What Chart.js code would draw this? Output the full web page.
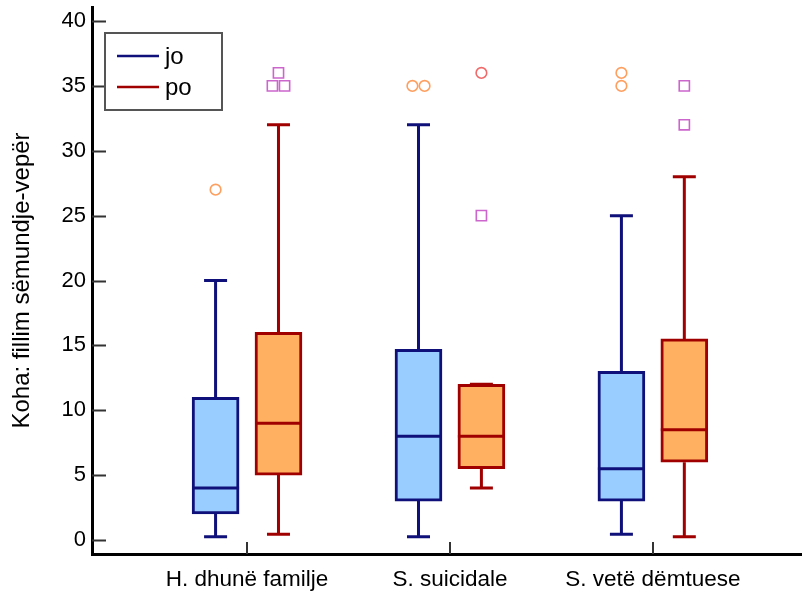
<!DOCTYPE html>
<html>
<head>
<meta charset="utf-8">
<script src="https://cdn.jsdelivr.net/npm/chart.js@4/dist/chart.umd.min.js"></script>
<style>
  html, body { margin: 0; padding: 0; background: #fff; }
  #wrap { width: 802px; height: 594px; }
</style>
</head>
<body>
<div id="wrap"><canvas id="boxChart" width="802" height="594"></canvas></div>
<script>
const categories = ['H. dhunë familje', 'S. suicidale', 'S. vetë dëmtuese'];
const seriesNames = ['jo', 'po'];

// box statistics per category
const joMin = [0.25, 0.25, 0.45];
const joQ1 = [2, 3, 3];
const joMedian = [4, 8, 5.5];
const joQ3 = [11, 14.7, 13];
const joMax = [20, 32, 25];

const poMin = [0.45, 4, 0.25];
const poQ1 = [5, 5.5, 6];
const poMedian = [9, 8, 8.5];
const poQ3 = [16, 12, 15.5];
const poMax = [32, 12, 28];

// outliers: value lists per category, with marker kind for each
const joOutliers = [[27], [35, 35], [35, 36]];
const joOutlierKind = [['circle'], ['circle', 'circle'], ['circle', 'circle']];
const poOutliers = [[35, 35, 36], [25, 36], [32, 35]];
const poOutlierKind = [['square', 'square', 'square'], ['square', 'far'], ['square', 'square']];

const yTicks = [0, 5, 10, 15, 20, 25, 30, 35, 40];

const FONT = "'Liberation Sans', Arial, sans-serif";
const SHIFT = 0.155;      // half distance between the two boxes of a category
const JITTER = 0.03;      // spread for tied outliers

const groups = [
  { name: 'jo', shift: -SHIFT, min: joMin, q1: joQ1, med: joMedian, q3: joQ3, max: joMax,
    line: '#10107a', fill: '#99ccff', out: joOutliers, kind: joOutlierKind },
  { name: 'po', shift: SHIFT, min: poMin, q1: poQ1, med: poMedian, q3: poQ3, max: poMax,
    line: '#a00000', fill: '#ffb060', out: poOutliers, kind: poOutlierKind }
];

const markerStyle = {
  circle: { pointStyle: 'circle', radius: 5.3, color: '#ff9f5f' },
  far: { pointStyle: 'circle', radius: 5.3, color: '#f06a6a' },
  square: { pointStyle: 'rect', radius: 7.2, color: '#cc66cc' }
};

// floating bars for the interquartile boxes
const boxDatasets = groups.map(g => ({
  type: 'bar',
  label: g.name,
  data: categories.map((c, i) => ({ x: i + 1 + g.shift, y: [g.q1[i], g.q3[i]] })),
  backgroundColor: g.fill,
  borderColor: g.line,
  borderWidth: 3,
  borderSkipped: false,
  barThickness: 47,
  grouped: false,
  order: 2
}));

// scatter points for the outliers, ties spread sideways
const outlierDatasets = [];
groups.forEach(g => {
  ['circle', 'far', 'square'].forEach(k => {
    const pts = [];
    categories.forEach((c, i) => {
      const vals = g.out[i];
      vals.forEach((v, j) => {
        if (g.kind[i][j] !== k) return;
        const same = vals.filter((w, n) => w === v && g.kind[i][n] === k);
        const idx = vals.slice(0, j).filter((w, n) => w === v && g.kind[i][n] === k).length;
        pts.push({ x: i + 1 + g.shift + (idx - (same.length - 1) / 2) * JITTER * 2, y: v });
      });
    });
    if (!pts.length) return;
    const m = markerStyle[k];
    outlierDatasets.push({
      type: 'scatter',
      label: g.name + '-' + k,
      data: pts,
      pointStyle: m.pointStyle,
      pointRadius: m.radius,
      pointBorderColor: m.color,
      pointBackgroundColor: 'rgba(0,0,0,0)',
      pointBorderWidth: 1.6,
      order: 1
    });
  });
});

// whiskers, caps and medians
const boxParts = {
  id: 'boxParts',
  beforeDatasetsDraw(chart) {
    const { ctx, scales: { x, y } } = chart;
    ctx.save();
    ctx.lineWidth = 3;
    groups.forEach(g => {
      ctx.strokeStyle = g.line;
      categories.forEach((c, i) => {
        const cx = x.getPixelForValue(i + 1 + g.shift);
        ctx.beginPath();
        ctx.moveTo(cx, y.getPixelForValue(g.min[i]));
        ctx.lineTo(cx, y.getPixelForValue(g.q1[i]));
        ctx.moveTo(cx, y.getPixelForValue(g.q3[i]));
        ctx.lineTo(cx, y.getPixelForValue(g.max[i]));
        ctx.stroke();
      });
    });
    ctx.restore();
  },
  afterDatasetsDraw(chart) {
    const { ctx, scales: { x, y } } = chart;
    const capHalf = 11.5;
    const boxHalf = 23.5;
    ctx.save();
    ctx.lineWidth = 3;
    groups.forEach(g => {
      ctx.strokeStyle = g.line;
      categories.forEach((c, i) => {
        const cx = x.getPixelForValue(i + 1 + g.shift);
        ctx.beginPath();
        [g.min[i], g.max[i]].forEach(v => {
          const py = y.getPixelForValue(v);
          ctx.moveTo(cx - capHalf, py);
          ctx.lineTo(cx + capHalf, py);
        });
        const pm = y.getPixelForValue(g.med[i]);
        ctx.moveTo(cx - boxHalf, pm);
        ctx.lineTo(cx + boxHalf, pm);
        ctx.stroke();
      });
    });
    ctx.restore();
  },
  afterDraw(chart) {
    const { ctx, scales: { x, y }, chartArea } = chart;
    ctx.save();
    // inward tick marks
    ctx.lineWidth = 2;
    ctx.strokeStyle = '#333';
    ctx.beginPath();
    yTicks.forEach(v => {
      const py = Math.round(y.getPixelForValue(v)) + 0.5;
      ctx.moveTo(chartArea.left, py);
      ctx.lineTo(chartArea.left + 14, py);
    });
    categories.forEach((c, i) => {
      const px = Math.round(x.getPixelForValue(i + 1));
      ctx.moveTo(px, chartArea.bottom);
      ctx.lineTo(px, chartArea.bottom - 12);
    });
    ctx.stroke();

    // legend box
    const lx = 105, ly = 33, lw = 117, lh = 77;
    ctx.lineWidth = 2;
    ctx.strokeStyle = '#555';
    ctx.fillStyle = '#fff';
    ctx.fillRect(lx, ly, lw, lh);
    ctx.strokeRect(lx, ly, lw, lh);
    ctx.font = '24px ' + FONT;
    ctx.textBaseline = 'middle';
    groups.forEach((g, k) => {
      const rowY = ly + 23 + k * 31;
      ctx.strokeStyle = g.line;
      ctx.lineWidth = 2.5;
      ctx.beginPath();
      ctx.moveTo(lx + 12, rowY);
      ctx.lineTo(lx + 54, rowY);
      ctx.stroke();
      ctx.fillStyle = '#000';
      ctx.fillText(seriesNames[k], lx + 60, rowY + 1);
    });
    ctx.restore();
  }
};

const noEdgePadding = s => {
  s.paddingLeft = 0;
  s.paddingRight = 0;
  s.paddingTop = 0;
  s.paddingBottom = 0;
};

const ctx = document.getElementById('boxChart').getContext('2d');
const chart = new Chart(ctx, {
  type: 'bar',
  data: { datasets: boxDatasets.concat(outlierDatasets) },
  options: {
    responsive: false,
    animation: false,
    layout: { autoPadding: false, padding: { top: 7, right: 1, left: 0, bottom: 0 } },
    plugins: {
      legend: { display: false },
      tooltip: { enabled: false }
    },
    scales: {
      x: {
        type: 'linear',
        offset: false,
        min: 0.236,
        max: 3.73,
        grid: { display: false, drawTicks: false },
        border: { display: true, color: '#000', width: 3 },
        afterBuildTicks: s => { s.ticks = categories.map((c, i) => ({ value: i + 1 })); },
        afterFit: s => { s.height = 40; noEdgePadding(s); },
        ticks: {
          padding: 12,
          autoSkip: false,
          maxRotation: 0,
          color: '#000',
          font: { family: FONT, size: 22.5 },
          callback: v => categories[v - 1]
        }
      },
      y: {
        type: 'linear',
        min: -1.08,
        max: 41.08,
        grid: { display: false, drawTicks: false },
        border: { display: true, color: '#000', width: 3 },
        afterBuildTicks: s => { s.ticks = yTicks.map(v => ({ value: v })); },
        afterFit: s => { s.width = 92; noEdgePadding(s); },
        ticks: {
          padding: 6,
          color: '#000',
          font: { family: FONT, size: 22 }
        },
        title: {
          display: true,
          text: 'Koha: fillim sëmundje-vepër',
          color: '#000',
          font: { family: FONT, size: 24 },
          padding: { top: 8, bottom: 0 }
        }
      }
    }
  },
  plugins: [boxParts]
});
</script>
</body>
</html>
